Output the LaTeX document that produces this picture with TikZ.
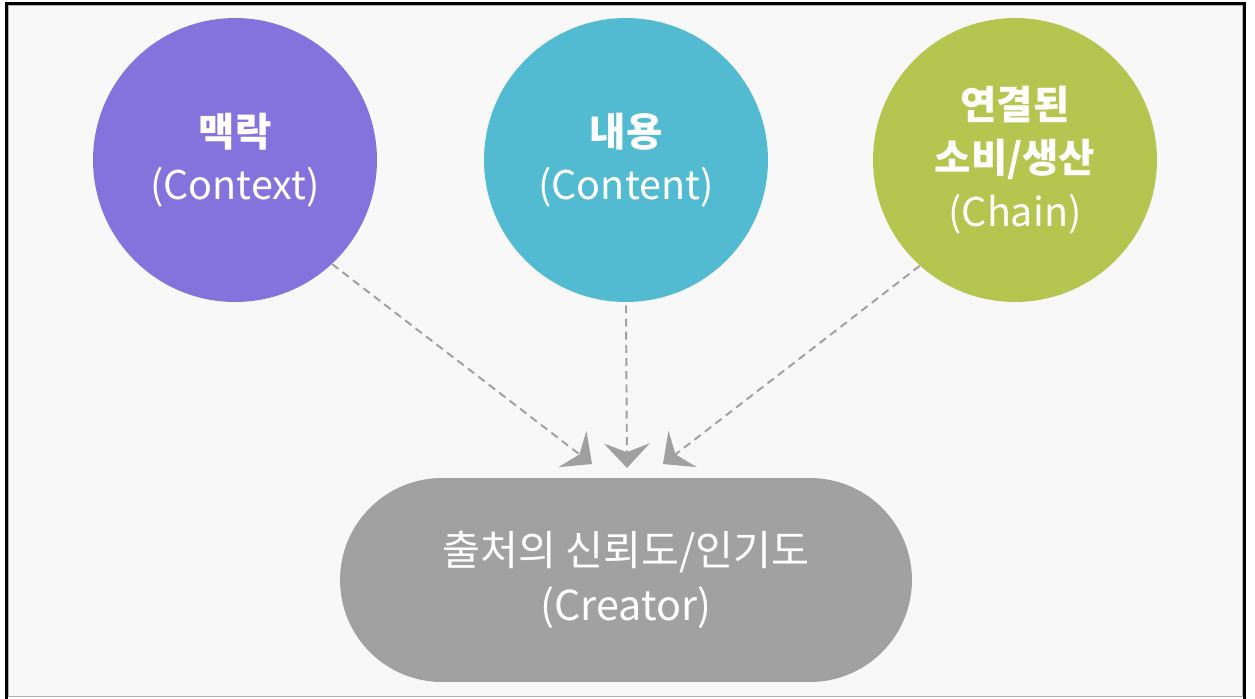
\documentclass[tikz,border=0pt]{standalone}
\usepackage{fontspec}
\setmainfont{Noto Sans CJK KR}
\usetikzlibrary{arrows.meta}

\definecolor{ctxpurple}{RGB}{133,115,221}
\definecolor{cntcyan}{RGB}{82,187,210}
\definecolor{chngreen}{RGB}{180,198,80}
\definecolor{crtgray}{RGB}{161,161,161}
\definecolor{arrowgray}{RGB}{160,160,160}
\definecolor{bggray}{RGB}{248,248,248}

\tikzset{
  bubble/.style={circle, minimum size=5.68cm, inner sep=0pt, text=white,
    align=center, font=\fontsize{22.5}{30.5}\selectfont},
  pill/.style={rectangle, rounded corners=2.04cm, minimum width=11.44cm,
    minimum height=4.08cm, inner sep=0pt, fill=crtgray, text=white,
    align=center, font=\fontsize{23.5}{31}\selectfont},
  link/.style={arrowgray, line width=1.1pt, dash pattern=on 4.5pt off 3pt,
    -{Stealth[length=14pt, width=26pt, inset=5pt]}}
}

\begin{document}
\begin{tikzpicture}[x=0.02cm, y=-0.02cm]
\useasboundingbox (0,0) rectangle (1255,698);
\fill[white] (0,0) rectangle (1255,698);
\draw[line width=1.7pt] (6.5,3.5) rectangle (1244.5,700);
\draw[fill=bggray, draw=gray!60, line width=0.5pt] (8.5,5.5) rectangle (1242.5,696.5);

\node[bubble, fill=ctxpurple] (context) at (235,160) {\textbf{맥락}\\(Context)};
\node[bubble, fill=cntcyan] (content) at (626,160) {\textbf{내용}\\(Content)};
\node[bubble, fill=chngreen] (chain) at (1015,160) {\textbf{연결된}\\\textbf{소비/생산}\\(Chain)};
\node[pill] (creator) at (626,580) {출처의 신뢰도/인기도\\(Creator)};

\coordinate (tipctx) at (592,464);
\coordinate (tipcnt) at (627,468);
\coordinate (tipchn) at (663,464);

\draw[link] (context.-47) -- (tipctx);
\draw[link] (content.south) ++(0,3) -- (tipcnt);
\draw[link] (chain.-132) -- (tipchn);
\end{tikzpicture}
\end{document}
